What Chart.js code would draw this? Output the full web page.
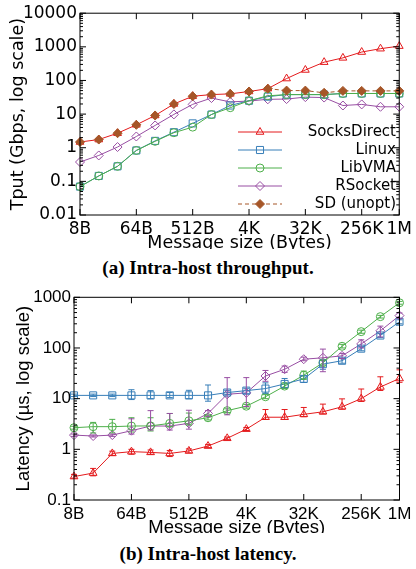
<!DOCTYPE html>
<html>
<head>
<meta charset="utf-8">
<script src="https://cdn.jsdelivr.net/npm/chart.js@4"></script>
<style>
  body { margin: 0; width: 416px; height: 569px; background: #fff; position: relative; overflow: hidden; }
  .box { position: absolute; left: 0; width: 416px; }
  .cap { position: absolute; left: 0; width: 416px; text-align: center; font: bold 19px/22px "Liberation Serif", serif; color: #000; }
</style>
</head>
<body>
<div class="box" style="top:0;height:249px"><canvas id="tput" width="416" height="249"></canvas></div>
<div class="cap" style="top:257px">(a) Intra-host throughput.</div>
<div class="box" style="top:280px;height:253px"><canvas id="lat" width="416" height="253"></canvas></div>
<div class="cap" style="top:543px">(b) Intra-host latency.</div>
<script>
// message sizes, one point per power of two
const sizes = ["8B", "16B", "32B", "64B", "128B", "256B", "512B", "1K", "2K", "4K", "8K", "16K", "32K", "64K", "128K", "256K", "512K", "1M"];
const shownSizes = ["8B", "64B", "512B", "4K", "32K", "256K", "1M"];
const tputTicks = [0.01, 0.1, 1, 10, 100, 1000, 10000];
const latTicks = [0.1, 1, 10, 100, 1000];

// (a) throughput, Gbps
const tputSocksDirect = [1.48, 1.75, 2.7, 4.8, 9.1, 20, 34, 38, 40, 47, 57, 114, 205, 350, 470, 700, 880, 1050];
const tputLinux = [0.07, 0.145, 0.28, 0.83, 1.6, 2.9, 5.3, 9.7, 18, 25, 33, 38, 38, 38, 41, 41, 41, 41];
const tputLibVMA = [0.07, 0.145, 0.28, 0.83, 1.55, 2.8, 4.1, 9.7, 15.5, 25, 35, 38, 38, 38, 41, 41, 41, 41];
const tputRSocket = [0.376, 0.59, 1.05, 2.16, 4.6, 9.8, 19.5, 30, 23, 24.5, 27.5, 28, 32, 31, 18, 19.4, 16.5, 16.5];
const tputSdUnopt = [1.48, 1.75, 2.7, 4.8, 9.1, 20, 34, 38, 40, 47, 57, 50, 50, 43, 49, 49, 49, 49];

// (b) latency, us, with error bar ranges
const latSocksDirect = [0.29, 0.34, 0.83, 0.9, 0.87, 0.83, 0.93, 1.16, 1.65, 2.5, 4.3, 4.3, 4.9, 5.5, 6.9, 10, 17, 25];
const latSocksDirectLo = [0.27, 0.3, 0.76, 0.8, 0.8, 0.72, 0.85, 1.08, 1.55, 2.35, 3.9, 3.9, 4.4, 5.0, 6.2, 8.8, 14.5, 21];
const latSocksDirectHi = [0.32, 0.42, 0.92, 1.0, 0.97, 0.95, 1.02, 1.25, 1.75, 2.7, 6.1, 6.1, 6.7, 7.8, 9.9, 15.5, 27, 37];
const latLinux = [11.6, 11.6, 11.6, 11.6, 11.6, 11.6, 11.6, 11.6, 13.2, 14.4, 15.8, 19.5, 24.5, 48, 56, 97, 176, 330];
const latLinuxLo = [11, 11, 11, 9.6, 10, 10.5, 10, 8.9, 12, 12.5, 12.5, 16, 21, 38, 50, 88, 160, 300];
const latLinuxHi = [12.3, 12.3, 12.3, 15, 14.4, 13.2, 14.6, 18.6, 14.6, 16, 20.5, 25, 28, 58, 62, 106, 192, 360];
const latLibVMA = [2.67, 2.8, 2.8, 2.88, 2.9, 3.25, 3.66, 4.2, 5.8, 7.1, 10.9, 17.7, 29, 51, 108, 210, 415, 780];
const latLibVMALo = [2.5, 2.1, 2.1, 2.2, 2.3, 2.8, 3.0, 3.8, 5.3, 6.5, 10, 16, 24, 46, 100, 195, 390, 730];
const latLibVMAHi = [2.85, 3.4, 3.9, 4.2, 4.2, 5.1, 5.2, 4.6, 6.3, 7.7, 12, 19.5, 35, 57, 118, 225, 440, 830];
const latRSocket = [1.91, 1.83, 1.91, 2.33, 2.88, 2.88, 3.25, 5.1, 12.2, 13, 28, 38, 60, 64, 70, 120, 218, 435];
const latRSocketLo = [1.8, 1.75, 1.8, 2.0, 2.4, 2.4, 2.5, 4.4, 4.8, 7, 22, 33, 56, 34, 62, 100, 165, 380];
const latRSocketHi = [2.0, 1.92, 2.0, 4.0, 5.8, 5.1, 5.9, 5.8, 26, 26, 36, 44, 66, 95, 78, 145, 270, 490];

const RED = "#e41a1c", BLUE = "#377eb8", GREEN = "#4daf4a", PURPLE = "#984ea3", BROWN = "#a65628";
const NONE = "rgba(0,0,0,0)";

function series(label, data, color, style, extra) {
    return Object.assign({
        label: label,
        data: data,
        borderColor: color,
        backgroundColor: color,
        pointBorderColor: color,
        pointBackgroundColor: NONE,
        pointStyle: style,
        pointRadius: 4.5,
        pointHoverRadius: 4.5,
        pointBorderWidth: 1,
        borderWidth: 1,
        tension: 0,
        fill: false,
    }, extra || {});
}

// gnuplot style box with inward ticks, minor ticks on the log axis
const gnuFrame = {
    id: "gnuFrame",
    afterDraw(chart) {
        const { ctx, chartArea: a } = chart;
        const x = chart.scales.x, y = chart.scales.y;
        ctx.save();
        ctx.strokeStyle = "#000";
        ctx.lineWidth = 1;
        ctx.strokeRect(a.left, a.top, a.right - a.left, a.bottom - a.top);
        ctx.beginPath();
        x.ticks.forEach((t, i) => {
            if (!shownSizes.includes(sizes[i])) return;
            const px = x.getPixelForTick(i);
            ctx.moveTo(px, a.bottom); ctx.lineTo(px, a.bottom - 6);
            ctx.moveTo(px, a.top); ctx.lineTo(px, a.top + 6);
        });
        y.ticks.forEach((t, i) => {
            const py = y.getPixelForValue(t.value);
            ctx.moveTo(a.left, py); ctx.lineTo(a.left + 6, py);
            ctx.moveTo(a.right, py); ctx.lineTo(a.right - 6, py);
            if (i === y.ticks.length - 1) return;
            for (let m = 2; m < 10; m++) {
                const pm = y.getPixelForValue(t.value * m);
                ctx.moveTo(a.left, pm); ctx.lineTo(a.left + 3, pm);
                ctx.moveTo(a.right, pm); ctx.lineTo(a.right - 3, pm);
            }
        });
        ctx.stroke();
        ctx.restore();
    },
};

const errBars = {
    id: "errBars",
    afterDatasetsDraw(chart) {
        const { ctx } = chart;
        const y = chart.scales.y;
        ctx.save();
        ctx.lineWidth = 1;
        chart.data.datasets.forEach((ds, i) => {
            if (!ds.errLo) return;
            const meta = chart.getDatasetMeta(i);
            ctx.strokeStyle = ds.borderColor;
            ctx.beginPath();
            meta.data.forEach((pt, j) => {
                const lo = y.getPixelForValue(ds.errLo[j]);
                const hi = y.getPixelForValue(ds.errHi[j]);
                ctx.moveTo(pt.x, lo); ctx.lineTo(pt.x, hi);
                ctx.moveTo(pt.x - 3, lo); ctx.lineTo(pt.x + 3, lo);
                ctx.moveTo(pt.x - 3, hi); ctx.lineTo(pt.x + 3, hi);
            });
            ctx.stroke();
        });
        ctx.restore();
    },
};

// key: sample on the left, label right-aligned
const gnuLegend = {
    id: "gnuLegend",
    afterDraw(chart, args, o) {
        const ctx = chart.ctx;
        ctx.save();
        ctx.font = o.font;
        ctx.textAlign = "right";
        ctx.textBaseline = "middle";
        chart.data.datasets.forEach((ds, i) => {
            const y = o.top + i * o.step;
            ctx.strokeStyle = ds.borderColor;
            ctx.lineWidth = 1;
            ctx.setLineDash(ds.borderDash || []);
            ctx.beginPath();
            ctx.moveTo(o.x1, y); ctx.lineTo(o.x2, y);
            ctx.stroke();
            ctx.setLineDash([]);
            if (o.caps) {
                ctx.beginPath();
                ctx.moveTo(o.x1, y - 3); ctx.lineTo(o.x1, y + 3);
                ctx.moveTo(o.x2, y - 3); ctx.lineTo(o.x2, y + 3);
                ctx.stroke();
            }
            ctx.fillStyle = ds.pointBackgroundColor;
            Chart.helpers.drawPoint(ctx, { pointStyle: ds.pointStyle, radius: ds.pointRadius, borderWidth: 1, rotation: 0 }, (o.x1 + o.x2) / 2, y);
            ctx.fillStyle = "#000";
            ctx.fillText(ds.label, o.textRight, y);
        });
        ctx.restore();
    },
};

function xScale(font, titleFont, height, titlePad) {
    return {
        type: "category",
        offset: false,
        grid: { display: false, drawTicks: false },
        border: { display: false },
        afterFit(s) { s.height = height; },
        ticks: {
            autoSkip: false, maxRotation: 0, minRotation: 0, padding: 4, color: "#000", font: font,
            callback(v) {
                const lab = this.getLabelForValue(v);
                return shownSizes.includes(lab) ? lab : "";
            },
        },
        title: { display: true, text: "Message size (Bytes)", color: "#000", font: titleFont, padding: { top: 0, bottom: titlePad } },
    };
}

function yScale(min, max, ticks, font, title, titleFont, width, titlePad) {
    return {
        type: "logarithmic",
        min: min,
        max: max,
        grid: { display: false, drawTicks: false },
        border: { display: false },
        afterFit(s) { s.width = width; },
        afterBuildTicks(s) { s.ticks = ticks.map(v => ({ value: v })); },
        ticks: { padding: 3, color: "#000", font: font, callback: v => String(v) },
        title: { display: true, text: title, color: "#000", font: titleFont, padding: { top: titlePad, bottom: 0 } },
    };
}

const tputFont = { family: "DejaVu Sans", size: 17, lineHeight: 1.2 };
const tputTitleFont = { family: "DejaVu Sans", size: 17.5, lineHeight: 1.2 };

new Chart(document.getElementById("tput"), {
    type: "line",
    data: {
        labels: sizes,
        datasets: [
            series("SocksDirect", tputSocksDirect, RED, "triangle", { order: 1 }),
            series("Linux", tputLinux, BLUE, "rect", { order: 3, pointRadius: 5 }),
            series("LibVMA", tputLibVMA, GREEN, "circle", { order: 2, pointRadius: 4 }),
            series("RSocket", tputRSocket, PURPLE, "rectRot", { order: 4 }),
            series("SD (unopt)", tputSdUnopt, BROWN, "rectRot", {
                order: 0,
                pointBackgroundColor: BROWN,
                borderDash: [4, 3],
                segment: {
                    borderColor: c => (tputSdUnopt[c.p0DataIndex] === tputSocksDirect[c.p0DataIndex] &&
                        tputSdUnopt[c.p1DataIndex] === tputSocksDirect[c.p1DataIndex]) ? NONE : undefined,
                },
            }),
        ],
    },
    options: {
        responsive: false,
        animation: false,
        events: [],
        layout: { padding: { left: 0, right: 13, top: 13, bottom: 0 } },
        plugins: {
            legend: { display: false },
            tooltip: { enabled: false },
            gnuLegend: { font: "15px 'DejaVu Sans'", top: 132, step: 18, x1: 238, x2: 282, textRight: 396, caps: false },
        },
        scales: {
            x: xScale(tputFont, tputTitleFont, 34, -4.5),
            y: yScale(0.01, 10000, tputTicks, tputFont, "Tput (Gbps, log scale)", tputTitleFont, 80, 8),
        },
    },
    plugins: [gnuFrame, gnuLegend],
});

const latFont = { family: "Liberation Sans", size: 17, lineHeight: 1.2 };
const latTitleFont = { family: "Liberation Sans", size: 18.5, lineHeight: 1.2 };

new Chart(document.getElementById("lat"), {
    type: "line",
    data: {
        labels: sizes,
        datasets: [
            series("SocksDirect", latSocksDirect, RED, "triangle", { errLo: latSocksDirectLo, errHi: latSocksDirectHi }),
            series("Linux", latLinux, BLUE, "rect", { pointRadius: 5, errLo: latLinuxLo, errHi: latLinuxHi }),
            series("LibVMA", latLibVMA, GREEN, "circle", { pointRadius: 4, errLo: latLibVMALo, errHi: latLibVMAHi }),
            series("RSocket", latRSocket, PURPLE, "rectRot", { errLo: latRSocketLo, errHi: latRSocketHi }),
        ],
    },
    options: {
        responsive: false,
        animation: false,
        events: [],
        layout: { padding: { left: 0, right: 16.5, top: 17.3, bottom: 0 } },
        plugins: {
            legend: { display: false },
            tooltip: { enabled: false },
            gnuLegend: { font: "15px 'Liberation Sans'", top: 311, step: 17, x1: 89, x2: 127, textRight: 227, caps: true },
        },
        scales: {
            x: xScale(latFont, latTitleFont, 33, -6.5),
            y: yScale(0.1, 1000, latTicks, latFont, "Latency (\u00b5s, log scale)", latTitleFont, 74, 13),
        },
    },
    plugins: [gnuFrame, errBars, gnuLegend],
});
</script>
</body>
</html>
